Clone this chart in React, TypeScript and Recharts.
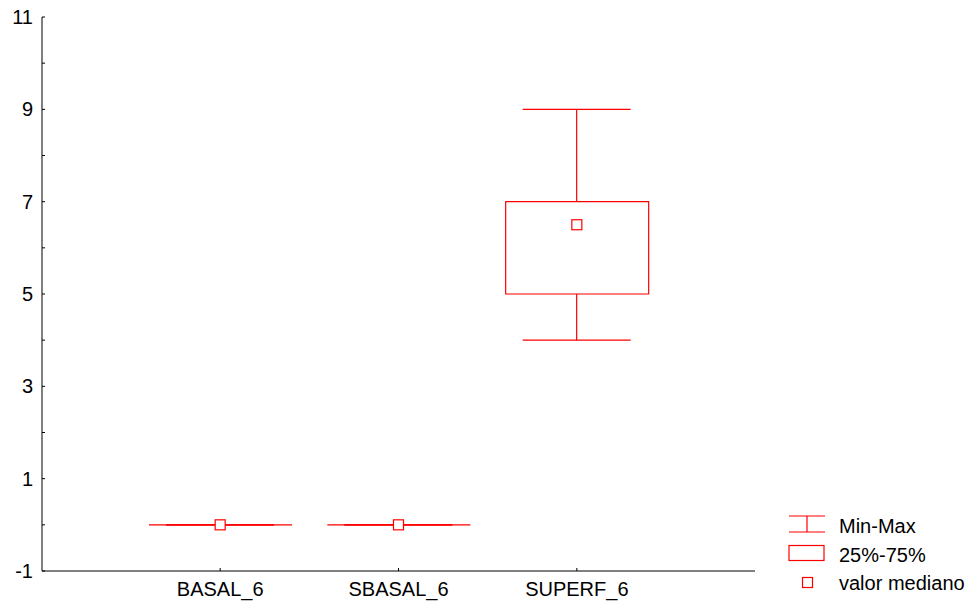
import React from "react";
import { ComposedChart, Bar, Line, XAxis, YAxis } from "recharts";

const categories = ["BASAL_6", "SBASAL_6", "SUPERF_6"];
const minValues = [0, 0, 4];
const q1Values = [0, 0, 5];
const medianValues = [0, 0, 6.5];
const q3Values = [0, 0, 7];
const maxValues = [0, 0, 9];
const yTicks = [-1, 0, 1, 2, 3, 4, 5, 6, 7, 8, 9, 10, 11];
const legendLabels = ["Min-Max", "25%-75%", "valor mediano"];

const RED = "#ff0000";
const FONT = "Arial, 'Liberation Sans', sans-serif";

const data = categories.map((name, i) => ({
  name,
  range: [minValues[i], maxValues[i]],
  box: [q1Values[i], q3Values[i]],
  median: medianValues[i],
}));

// vertical whisker with caps across the bar width
const Whisker = (props: any) => {
  const { x, y, width, height } = props;
  const top = Math.min(y, y + height);
  const bottom = Math.max(y, y + height);
  const cx = x + width / 2;
  return (
    <g stroke={RED} strokeWidth={1.2} fill="none">
      <line x1={cx} x2={cx} y1={top} y2={bottom} />
      <line x1={x} x2={x + width} y1={top} y2={top} />
      <line x1={x} x2={x + width} y1={bottom} y2={bottom} />
    </g>
  );
};

const BoxShape = (props: any) => {
  const { x, y, width, height } = props;
  const top = Math.min(y, y + height);
  const bottom = Math.max(y, y + height);
  return (
    <path
      d={`M${x},${top}H${x + width}V${bottom}H${x}Z`}
      stroke={RED}
      strokeWidth={1.2}
      fill="#fff"
    />
  );
};

const MedianDot = (props: any) => {
  const { cx, cy, index } = props;
  return (
    <rect key={index} x={cx - 5} y={cy - 5} width={10} height={10} fill="#fff" stroke={RED} strokeWidth={1.2} />
  );
};

const tickStyle = { fontSize: 20, fill: "#000", fontFamily: FONT };
const blank = () => "";

function Legend() {
  return (
    <svg
      width={193}
      height={105}
      style={{ position: "absolute", left: 780, top: 500 }}
      fontFamily={FONT}
      fontSize={20}
    >
      <g stroke={RED} strokeWidth={1.2} fill="none">
        <line x1={9} x2={45} y1={16} y2={16} />
        <line x1={9} x2={45} y1={32} y2={32} />
        <line x1={27} x2={27} y1={16} y2={32} />
        <rect x={9} y={45.5} width={35} height={15} fill="#fff" />
        <rect x={22.5} y={77.5} width={10} height={10} fill="#fff" />
      </g>
      <text x={59} y={26} dominantBaseline="central">{legendLabels[0]}</text>
      <text x={59} y={55} dominantBaseline="central">{legendLabels[1]}</text>
      <text x={59} y={83} dominantBaseline="central">{legendLabels[2]}</text>
    </svg>
  );
}

export default function App() {
  return (
    <div style={{ position: "absolute", left: 0, top: 0, width: 973, height: 605, background: "#fff" }}>
      <ComposedChart
        width={973}
        height={605}
        data={data}
        margin={{ top: 17, right: 218, bottom: 0, left: 0 }}
      >
        <XAxis
          dataKey="name"
          xAxisId="b"
          orientation="bottom"
          height={34}
          padding={{ left: 89, right: 89 }}
          axisLine={{ stroke: "#000" }}
          tickLine={{ stroke: "#000" }}
          tickSize={-3}
          tickMargin={14}
          tick={tickStyle}
          interval={0}
        />
        <XAxis
          dataKey="name"
          xAxisId="t"
          orientation="top"
          height={0}
          padding={{ left: 89, right: 89 }}
          axisLine={{ stroke: "#000" }}
          tickLine={{ stroke: "#000" }}
          tickSize={-3}
          tickFormatter={blank}
          interval={0}
        />
        <YAxis
          yAxisId="l"
          type="number"
          domain={[-1, 11]}
          ticks={yTicks}
          interval={0}
          width={42}
          axisLine={{ stroke: "#000" }}
          tickLine={{ stroke: "#000" }}
          tickSize={-3}
          tickMargin={12}
          tick={tickStyle}
          tickFormatter={(v: number) => (Math.abs(v) % 2 === 1 ? String(v) : "")}
        />
        <YAxis
          yAxisId="r"
          orientation="right"
          type="number"
          domain={[-1, 11]}
          ticks={yTicks}
          interval={0}
          width={0}
          axisLine={{ stroke: "#000" }}
          tickLine={{ stroke: "#000" }}
          tickSize={-3}
          tickFormatter={blank}
        />
        <Bar
          dataKey="range"
          xAxisId="b"
          yAxisId="l"
          barSize={108}
          shape={Whisker}
          isAnimationActive={false}
        />
        <Bar
          dataKey="box"
          xAxisId="t"
          yAxisId="l"
          barSize={143}
          shape={BoxShape}
          isAnimationActive={false}
        />
        <Line
          dataKey="median"
          xAxisId="b"
          yAxisId="l"
          stroke="none"
          dot={MedianDot}
          activeDot={false}
          isAnimationActive={false}
        />
      </ComposedChart>
      <Legend />
    </div>
  );
}
